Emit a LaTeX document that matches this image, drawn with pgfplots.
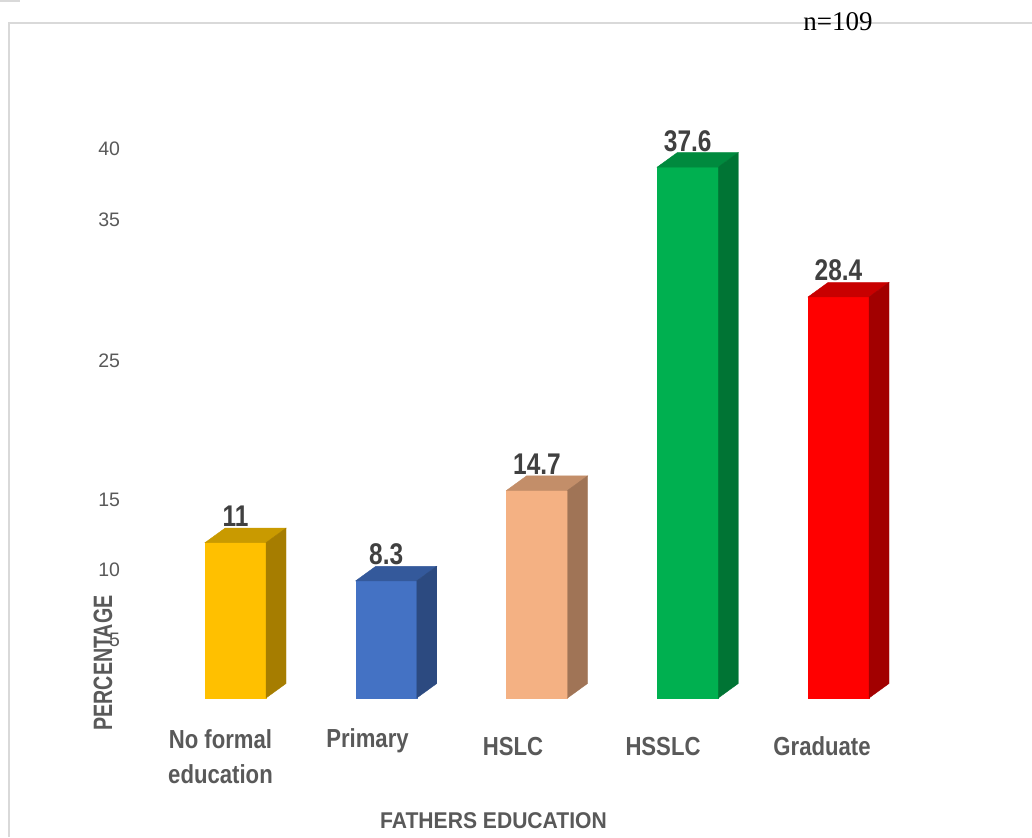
\documentclass[border=0pt]{standalone}
\usepackage{fontspec}
\usepackage{graphicx}
\usepackage{pgfplots}
\pgfplotsset{compat=1.18}
\setmainfont{Liberation Sans}
\newfontfamily\serifnum{Liberation Serif}
\newfontfamily\valfont[FakeStretch=0.9]{Liberation Sans}
\newfontfamily\catfont[FakeStretch=0.95]{Liberation Sans}

\definecolor{txt}{HTML}{595959}
\definecolor{valtxt}{HTML}{404040}
\definecolor{boxgray}{HTML}{D9D9D9}
% front / top / side shades of each bar
\definecolor{yfront}{HTML}{FFC000}\definecolor{ytop}{HTML}{C99A00}\definecolor{yside}{HTML}{A67D00}
\definecolor{bfront}{HTML}{4472C4}\definecolor{btop}{HTML}{34599B}\definecolor{bside}{HTML}{2C4A80}
\definecolor{sfront}{HTML}{F4B183}\definecolor{stop}{HTML}{C38E69}\definecolor{sside}{HTML}{A07456}
\definecolor{gfront}{HTML}{00B050}\definecolor{gtop}{HTML}{008A3E}\definecolor{gside}{HTML}{007434}
\definecolor{rfront}{HTML}{FF0000}\definecolor{rtop}{HTML}{C80000}\definecolor{rside}{HTML}{A20000}

% half width of the front face, depth offsets (axis units)
\newcommand\hw{0.2023}
\newcommand\dx{0.1327}
\newcommand\dy{1.027}
\newcommand\vallabelfont{\valfont\bfseries\fontsize{13.6}{16}\selectfont}
\newcommand\tall[1]{\scalebox{1}[1.1]{#1}}
\newcommand\cat[1]{\scalebox{1}[1.12]{#1}}

% a bar with a front face, a top face and a right side face, plus its value
\newcommand{\prismbar}[5]{%
  \pgfmathsetmacro\xl{#1-\hw}%
  \pgfmathsetmacro\xr{#1+\hw}%
  \pgfmathsetmacro\xld{#1-\hw+\dx}%
  \pgfmathsetmacro\xrd{#1+\hw+\dx}%
  \pgfmathsetmacro\vt{#2+\dy}%
  \edef\temp{%
    \noexpand\addplot[fill=#3,draw=#3,line width=0.2pt] coordinates {(\xl,0) (\xr,0) (\xr,#2) (\xl,#2)} -- cycle;
    \noexpand\addplot[fill=#4,draw=#4,line width=0.2pt] coordinates {(\xl,#2) (\xr,#2) (\xrd,\vt) (\xld,\vt)} -- cycle;
    \noexpand\addplot[fill=#5,draw=#5,line width=0.2pt] coordinates {(\xr,0) (\xrd,\dy) (\xrd,\vt) (\xr,#2)} -- cycle;
    \noexpand\node[anchor=base,inner sep=0pt,text=valtxt,yshift=0.75pt,font=\noexpand\vallabelfont] at (axis cs:#1,\vt) {\noexpand\tall{#2}};
  }\temp}

\begin{document}
\begin{tikzpicture}
\useasboundingbox (0,0) rectangle (516pt,418.5pt);

\begin{axis}[
  at={(61.22pt,69.5pt)}, anchor=south west,
  scale only axis, width=414.56pt, height=296.52pt,
  xmin=-0.75, xmax=4.75, ymin=0, ymax=42,
  axis line style={draw=none}, major tick length=0pt,
  xtick=\empty,
  ytick={4.1,9.05,14,23.9,33.85,38.9},
  yticklabels={5,10,15,25,35,40},
  yticklabel style={anchor=east, inner sep=0pt, xshift=-1pt, text=txt,
    font=\fontsize{9.75}{11}\selectfont},
  clip=false,
]
\prismbar{0}{11}{yfront}{ytop}{yside}
\prismbar{1}{8.3}{bfront}{btop}{bside}
\prismbar{2}{14.7}{sfront}{stop}{sside}
\prismbar{3}{37.6}{gfront}{gtop}{gside}
\prismbar{4}{28.4}{rfront}{rtop}{rside}
\end{axis}

\begin{scope}[x=0.5pt,y=-0.5pt,shift={(0pt,418.5pt)}]
  % frame
  \draw[boxgray, line width=1pt] (0,1) -- (20,1);
  \draw[boxgray, line width=1pt] (8.5,837) -- (8.5,22.7) -- (1032,22.7);
  \node[anchor=base west, inner sep=0pt, font=\serifnum\fontsize{13.5}{16}\selectfont] at (803,30.7) {n=109};
  % category names
  \begin{scope}[every node/.style={anchor=base, inner sep=0pt, text=txt,
      font=\catfont\bfseries\fontsize{11.65}{14}\selectfont}]
    \node at (220.5,748.3) {\cat{No formal}};
    \node at (220.5,783) {\cat{education}};
    \node at (367.5,747.5) {\cat{Primary}};
    \node at (513,755) {\cat{HSLC}};
    \node at (663,755) {\cat{HSSLC}};
    \node at (822,755) {\cat{Graduate}};
  \end{scope}
  % axis titles
  \node[anchor=base, inner sep=0pt, text=txt, font=\bfseries\fontsize{10.55}{13}\selectfont]
    at (493.5,828.3) {\scalebox{1}[1.08]{FATHERS EDUCATION}};
  \node[rotate=90, anchor=center, inner sep=0pt, text=txt, font=\bfseries\fontsize{9.84}{12}\selectfont]
    at (103,663) {\scalebox{1}[1.35]{PERCENTAGE}};
\end{scope}
\end{tikzpicture}
\end{document}
